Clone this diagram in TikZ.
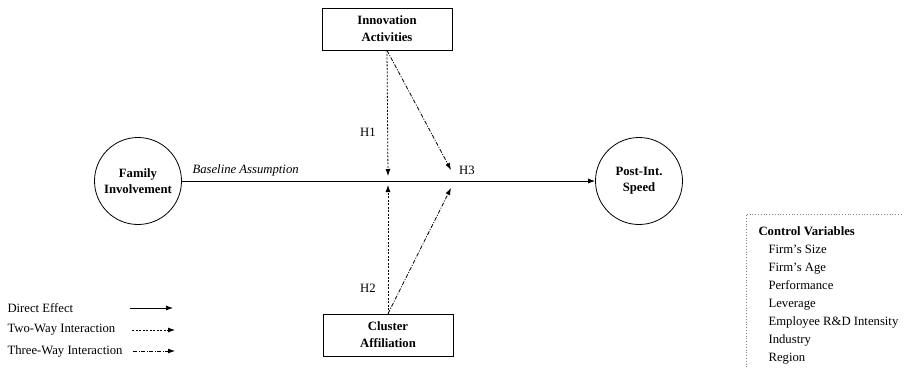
\documentclass[tikz,border=0pt]{standalone}
\usepackage{fontspec}
\setmainfont{Liberation Serif}
\usetikzlibrary{arrows.meta, positioning}
\tikzset{
    >={Latex[length=7pt,width=5pt]}, % small filled arrow heads
    every node/.style={font=\fontsize{12.7}{16}\selectfont}, % Times-like text everywhere
    construct/.style={draw, thick, circle, minimum size=87pt, inner sep=0pt, align=center, font=\fontsize{12.7}{16}\selectfont\bfseries}, % round variables
    moderator/.style={draw, thick, rectangle, minimum width=130pt, minimum height=42pt, align=center, font=\fontsize{12.7}{17}\selectfont\bfseries}, % boxed moderators
    direct/.style={->, thick}, % direct effect
    twoway/.style={->, thick, dash pattern=on 2pt off 1.5pt}, % two-way interaction
    threeway/.style={->, thick, dash pattern=on 4pt off 1.5pt on 1pt off 1.5pt}, % three-way interaction
}

\begin{document}
\begin{tikzpicture}[x=1pt, y=-1pt]
        \useasboundingbox (0,0) rectangle (904,369);

        % Constructs
        \node[construct] (FAM) at (138,181) {Family\\Involvement};
        \node[construct] (POST) at (639,181) {Post-Int.\\Speed};
        \node[moderator] (INNO) at (387,29) {Innovation\\Activities};
        \node[moderator] (CLUS) at (388,335) {Cluster\\Affiliation};

        % arrow end points on the main path
        \coordinate (H1_end) at (388,176);
        \coordinate (H2_end) at (388,185);
        \coordinate (H3_top) at (451,170);
        \coordinate (H3_bot) at (451,188);

        % Effects
        \draw   (FAM)  edge[direct] (POST)
                (INNO.south) edge[twoway] (H1_end)
                             edge[threeway] (H3_top)
                (CLUS.north) edge[twoway] (H2_end)
                             edge[threeway] (H3_bot)
                        ;

        % Labels
        \node[anchor=west, font=\fontsize{12.7}{16}\selectfont\itshape] (BASE) at (189,170) {Baseline Assumption};
        \node (H1) at (368,132) {H1};
        \node (H2) at (368,288) {H2};
        \node (H3) at (467,170) {H3};

        % Legend
        \node[anchor=west] (L1) at (4,308) {Direct Effect};
        \node[anchor=west] (L2) at (4,330) {Two-Way Interaction};
        \node[anchor=west] (L3) at (4,351) {Three-Way Interaction};
        \coordinate (L1a) at (130,308); \coordinate (L1b) at (173,308);
        \coordinate (L2a) at (132,330); \coordinate (L2b) at (175,330);
        \coordinate (L3a) at (133,351); \coordinate (L3b) at (175,351);
        \draw (L1a) edge[direct] (L1b)
              (L2a) edge[twoway] (L2b)
              (L3a) edge[threeway] (L3b);

        % Control variables
        \draw[gray, thick, dotted] (910,214) -| (746,375);
        \node[anchor=base west, font=\fontsize{12.7}{16}\selectfont\bfseries] (CV) at (755,235) {Control Variables};
        \foreach \name [count=\i] in {Firm’s Size, Firm’s Age, Performance, Leverage, Employee R\&D Intensity, Industry, Region}
            \node[anchor=base west] (CV\i) at (765,{235+18*\i}) {\name};
    \end{tikzpicture}
\end{document}
